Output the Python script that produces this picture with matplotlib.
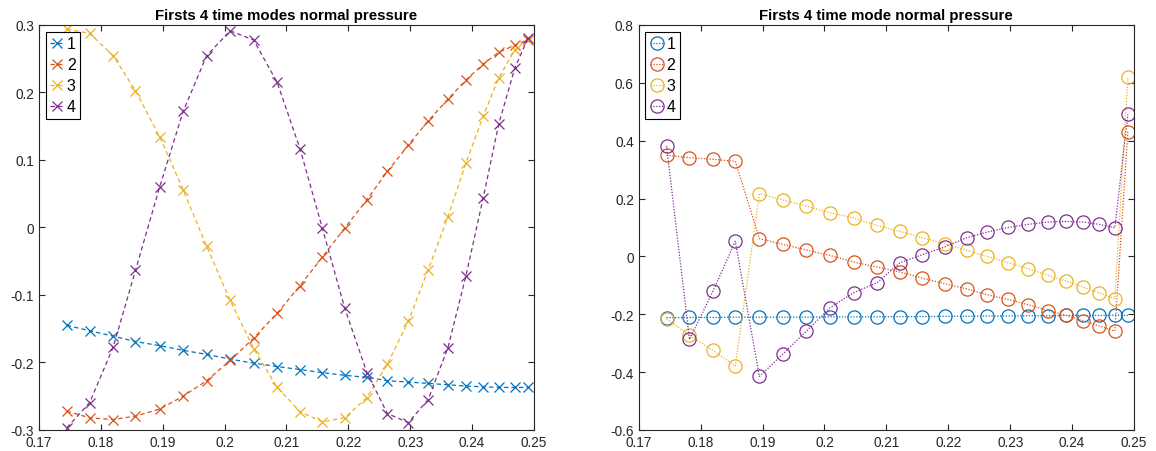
import matplotlib
matplotlib.use("Agg")
import matplotlib.pyplot as plt
from matplotlib.ticker import FuncFormatter

plt.rcParams['font.family'] = ['Liberation Sans', 'DejaVu Sans']
plt.rcParams['axes.unicode_minus'] = False

# Frequency samples shared by both panels
freq = [0.1745, 0.1782, 0.1820, 0.1856, 0.1895, 0.1933, 0.1971, 0.2009,
        0.2047, 0.2085, 0.2122, 0.2158, 0.2194, 0.2230, 0.2263, 0.2297,
        0.2329, 0.2361, 0.2390, 0.2418, 0.2443, 0.2469, 0.2490]

# Left panel: first four time modes
modes_a1 = [-0.145, -0.153, -0.161, -0.169, -0.175, -0.182, -0.188, -0.195,
            -0.201, -0.206, -0.2105, -0.215, -0.219, -0.222, -0.227, -0.229,
            -0.231, -0.233, -0.235, -0.236, -0.237, -0.237, -0.237]
modes_a2 = [-0.272, -0.282, -0.2845, -0.2795, -0.269, -0.250, -0.227, -0.197,
            -0.164, -0.127, -0.086, -0.044, -0.001, 0.041, 0.083, 0.122,
            0.158, 0.190, 0.2185, 0.242, 0.2595, 0.270, 0.278]
modes_a3 = [0.294, 0.2875, 0.2545, 0.2027, 0.1346, 0.0558, -0.028, -0.108,
            -0.1794, -0.237, -0.273, -0.288, -0.282, -0.252, -0.2026, -0.139,
            -0.0626, 0.016, 0.0953, 0.165, 0.2215, 0.263, 0.279]
modes_a4 = [-0.2967, -0.2593, -0.177, -0.0636, 0.0598, 0.172, 0.2545, 0.2914,
            0.2777, 0.215, 0.1164, -0.001, -0.119, -0.215, -0.2756, -0.289,
            -0.255, -0.178, -0.072, 0.044, 0.153, 0.236, 0.280]

# Right panel: first four time modes
modes_b1 = [-0.212, -0.211, -0.211, -0.210, -0.210, -0.210, -0.210, -0.209,
            -0.209, -0.209, -0.208, -0.208, -0.207, -0.207, -0.206, -0.206,
            -0.205, -0.205, -0.204, -0.204, -0.204, -0.203, -0.204]
modes_b2 = [0.3495, 0.3415, 0.3356, 0.3287, 0.0612, 0.0415, 0.022, 0.0035,
            -0.0194, -0.0367, -0.054, -0.075, -0.0945, -0.112, -0.1325, -0.1488,
            -0.167, -0.187, -0.204, -0.2225, -0.240, -0.258, 0.430]
modes_b3 = [-0.2156, -0.273, -0.325, -0.379, 0.217, 0.195, 0.174, 0.151,
            0.133, 0.107, 0.0866, 0.0647, 0.044, 0.0208, 0.0, -0.0218,
            -0.0426, -0.0657, -0.085, -0.106, -0.1256, -0.146, 0.620]
modes_b4 = [0.381, -0.287, -0.120, 0.052, -0.415, -0.337, -0.258, -0.1775,
            -0.1256, -0.091, -0.0218, 0.006, 0.0325, 0.0647, 0.0844, 0.100,
            0.111, 0.119, 0.121, 0.119, 0.111, 0.099, 0.491]

labels = ['1', '2', '3', '4']
colors = ['#0072BD', '#D95319', '#EDB120', '#7E2F8E']
titles = ['Firsts 4 time modes normal pressure',
          'Firsts 4 time mode normal pressure']

fig = plt.figure(figsize=(11.56, 4.52), dpi=100)
ax1 = fig.add_axes([0.0337, 0.0465, 0.4282, 0.896])
ax2 = fig.add_axes([0.5525, 0.0465, 0.4285, 0.896])

for ys, lab, c in zip([modes_a1, modes_a2, modes_a3, modes_a4], labels, colors):
    ax1.plot(freq, ys, linestyle=(0, (3.5, 2.5)), color=c, lw=0.9,
             marker='x', markersize=7, markeredgewidth=0.9, label=lab)

for ys, lab, c in zip([modes_b1, modes_b2, modes_b3, modes_b4], labels, colors):
    ax2.plot(freq, ys, linestyle=(0, (1, 1.3)), color=c, lw=0.9,
             marker='o', markersize=9.5, markerfacecolor='none',
             markeredgewidth=0.9, label=lab)

fmt = FuncFormatter(lambda v, p: ('%g' % round(v, 6)))
spine_col = '#262626'
for ax, title, ylim, yt in [
        (ax1, titles[0], (-0.3, 0.3), [-0.3, -0.2, -0.1, 0, 0.1, 0.2, 0.3]),
        (ax2, titles[1], (-0.6, 0.8), [-0.6, -0.4, -0.2, 0, 0.2, 0.4, 0.6, 0.8])]:
    ax.set_xlim(0.17, 0.25)
    ax.set_ylim(*ylim)
    ax.set_xticks([0.17 + 0.01 * i for i in range(9)])
    ax.set_yticks(yt)
    ax.xaxis.set_major_formatter(fmt)
    ax.yaxis.set_major_formatter(fmt)
    ax.tick_params(direction='in', top=True, right=True, length=4.5,
                   width=0.8, labelsize=9.8, colors=spine_col, pad=3.5)
    for s in ax.spines.values():
        s.set_color(spine_col)
        s.set_linewidth(0.8)
    ax.set_title(title, fontsize=10.8, fontweight='bold', pad=4)
    leg = ax.legend(loc='upper left', fontsize=11.5, frameon=True, fancybox=False,
                    edgecolor='black', handlelength=0.85, handletextpad=0.2,
                    borderpad=0.28, labelspacing=0.38, borderaxespad=0.42,
                    framealpha=1)
    leg.get_frame().set_linewidth(0.8)

fig.savefig('out.png', dpi=100)
